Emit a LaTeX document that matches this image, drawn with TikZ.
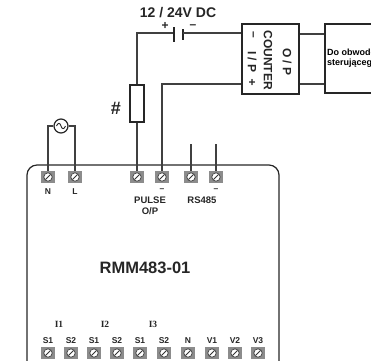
\documentclass[tikz,border=0pt]{standalone}
\usepackage{fontspec}
\setmainfont{Liberation Sans}
\newfontfamily\serifb{Liberation Serif}
\definecolor{wire}{gray}{0.25}
\tikzset{x=1pt,y=-1pt,
 wireline/.style={draw=wire,line width=1.3pt},
 boxline/.style={draw=black!85,line width=1.2pt},
 lab/.style={font=\bfseries\fontsize{8.5}{10}\selectfont,inner sep=0pt,text=black!85,align=center},
 serlab/.style={lab,font=\serifb\bfseries\fontsize{9.5}{11}\selectfont},
 cntlab/.style={lab,rotate=-90,font=\bfseries\fontsize{12}{14}\selectfont},
 loadlab/.style={lab,anchor=west,font=\bfseries\fontsize{9}{11}\selectfont,text=black},
 term/.style={draw=none,fill=black!45,minimum width=14pt,minimum height=12pt,inner sep=0pt,
  path picture={\fill[white] (path picture bounding box.center) circle (4.2pt);
   \draw[black!75,line width=.7pt] (path picture bounding box.center) circle (4.2pt);
   \draw[black!80,line width=.8pt] ([shift={(-2.6pt,-2.6pt)}]path picture bounding box.center) -- ([shift={(2.6pt,2.6pt)}]path picture bounding box.center);}}}
\begin{document}
\begin{tikzpicture}
\useasboundingbox (0,0) rectangle (371,360);
\clip (0,0) rectangle (371,360);
% main unit
\draw[boxline,rounded corners=10pt] (27,375) -- (27,165) -- (279,165) -- (279,375);
% top terminals
\node[term] (tn) at (48,177) {};
\node[term] (tl) at (75,177) {};
\node[term] (tp) at (137,177) {};
\node[term] (tm) at (162,177) {};
\node[term] (ta) at (191,177) {};
\node[term] (tb) at (216,177) {};
% bottom terminals
\foreach \n/\x/\t in {a/48/S1,b/71/S2,c/94/S1,d/117/S2,e/140/S1,f/164/S2,g/188/N,h/212/V1,i/235/V2,j/258/V3}{
 \node[term] (b\n) at (\x,353) {};
 \node[lab] (lb\n) at (\x,341) {\t};
}
\node[serlab] (i1) at (59,324) {I1};
\node[serlab] (i2) at (105,324) {I2};
\node[serlab] (i3) at (153,324) {I3};
% labels
\node[lab] (ln) at (48,192) {N};
\node[lab] (ll) at (75,192) {L};
\node[lab] (lm1) at (162,190) {–};
\node[lab] (lm2) at (216,190) {–};
\node[lab,font=\bfseries\fontsize{9.5}{11}\selectfont] (lpulse) at (150,200) {PULSE};
\node[lab,font=\bfseries\fontsize{9.5}{11}\selectfont] (lop) at (150,211) {O/P};
\node[lab,font=\bfseries\fontsize{9.5}{11}\selectfont] (lrs) at (202,200) {RS485};
\node[lab,font=\bfseries\fontsize{16.5}{18}\selectfont] (title) at (145,268) {RMM483-01};
\node[lab,font=\bfseries\fontsize{18}{20}\selectfont] (hash) at (116,108) {\#};
\node[lab,font=\bfseries\fontsize{14}{16}\selectfont] (dc) at (178,13) {12 / 24V DC};
\node[lab,font=\bfseries\fontsize{12}{14}\selectfont] (pl) at (165,26) {+};
\node[lab,font=\bfseries\fontsize{12}{14}\selectfont] (mi) at (193,27) {–};
% source
\node[circle,draw=black!85,line width=1.2pt,minimum size=14pt,inner sep=0pt] (src) at (61,126) {};
\draw[black!85,line width=.9pt] (56.5,126) .. controls (58,122.5) and (60,122.5) .. (61,126) .. controls (62,129.5) and (64,129.5) .. (65.5,126);
\draw[wireline] (src.west) -- (48,126) -- (tn.center);
\draw[wireline] (src.east) -- (75,126) -- (tl.center);
% resistor
\node[draw=black!85,line width=1.2pt,minimum width=14pt,minimum height=37pt,inner sep=0pt] (res) at (137,103.5) {};
\draw[wireline] (res.south) -- (tp.center);
% battery
\coordinate (p1) at (174,33);
\coordinate (p2) at (183,33);
\draw[wireline] (res.north) -- (137,33) -- (p1);
\draw[boxline] (174,27) -- (174,42);
\draw[boxline] (183,29) -- (183,40);
% counter
\node[boxline,draw,minimum width=57pt,minimum height=70pt,inner sep=0pt] (cnt) at (270.5,59) {};
\draw[wireline] (p2) -- (cnt.west |- p2);
\draw[wireline] (tm.center) -- (162,84) -- (cnt.west |- 0,84);
\node[cntlab] (o1) at (287,62) {O / P};
\node[cntlab] (o2) at (268,60) {COUNTER};
\node[cntlab] (o3) at (252,62) {I / P};
\node[cntlab] (o4) at (252,35) {–};
\node[lab,font=\bfseries\fontsize{12}{14}\selectfont] (o5) at (252,83) {+};
% load
\node[boxline,draw,minimum width=60pt,minimum height=69pt,inner sep=0pt] (load) at (355,58.5) {};
\draw[wireline] (cnt.east |- 0,34) -- (load.west |- 0,34);
\draw[wireline] (cnt.east |- 0,84) -- (load.west |- 0,84);
\node[loadlab] (t1) at (327,52) {Do obwodów};
\node[loadlab] (t2) at (327,63) {sterującego};
% RS485 stubs
\coordinate (s1) at (191,144);
\coordinate (s2) at (216,144);
\draw[wireline] (s1) -- (ta.center);
\draw[wireline] (s2) -- (tb.center);
% terminal faces redrawn over the wires
\foreach \k/\x in {tn/48,tl/75,tp/137,tm/162,ta/191,tb/216}{
 \node[term] at (\k) {};
}
\end{tikzpicture}
\end{document}
